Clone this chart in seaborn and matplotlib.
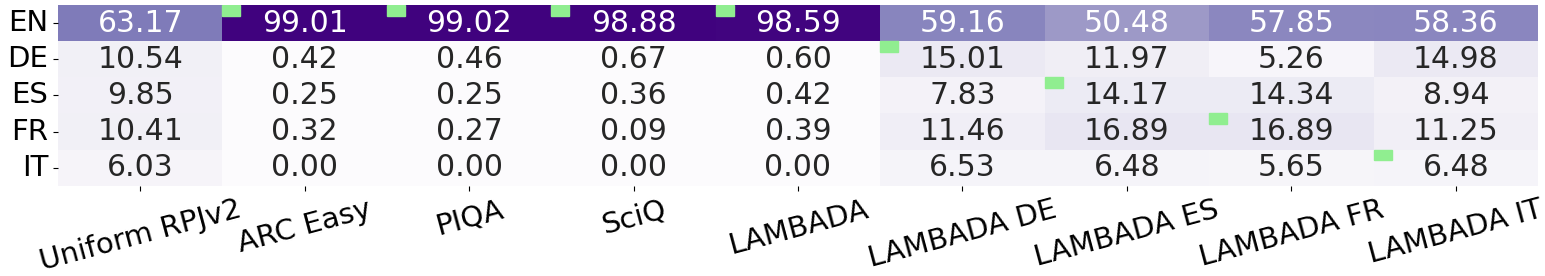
import numpy as np
import pandas as pd
import matplotlib
matplotlib.use("Agg")
import matplotlib.pyplot as plt
import seaborn as sns
from matplotlib.patches import Rectangle

languages = ["EN", "DE", "ES", "FR", "IT"]
benchmarks = ["Uniform RPJv2", "ARC Easy", "PIQA", "SciQ", "LAMBADA",
              "LAMBADA DE", "LAMBADA ES", "LAMBADA FR", "LAMBADA IT"]

en = [63.17, 99.01, 99.02, 98.88, 98.59, 59.16, 50.48, 57.85, 58.36]
de = [10.54, 0.42, 0.46, 0.67, 0.60, 15.01, 11.97, 5.26, 14.98]
es = [9.85, 0.25, 0.25, 0.36, 0.42, 7.83, 14.17, 14.34, 8.94]
fr = [10.41, 0.32, 0.27, 0.09, 0.39, 11.46, 16.89, 16.89, 11.25]
it = [6.03, 0.00, 0.00, 0.00, 0.00, 6.53, 6.48, 5.65, 6.48]

# target language of each benchmark (marked with a green square)
target = [None, "EN", "EN", "EN", "EN", "DE", "ES", "FR", "IT"]

df = pd.DataFrame([en, de, es, fr, it], index=languages, columns=benchmarks)

fig, ax = plt.subplots(figsize=(15.45, 2.76), dpi=100)
sns.heatmap(df, annot=True, fmt=".2f", cmap="Purples", vmin=0, vmax=100,
            cbar=False, annot_kws={"size": 21.5}, ax=ax)

for j, lang in enumerate(target):
    if lang is None:
        continue
    i = languages.index(lang)
    ax.add_patch(Rectangle((j, i), 0.11, 0.3, color="lightgreen", zorder=3))

ax.set_xlabel("")
ax.set_ylabel("")
ax.tick_params(axis="y", labelsize=21, rotation=0)
ax.tick_params(axis="x", labelsize=21)
plt.setp(ax.get_xticklabels(), rotation=15, ha="center")

plt.subplots_adjust(left=0.0375, right=0.9955, top=0.982, bottom=0.327)
plt.savefig("out.png")
